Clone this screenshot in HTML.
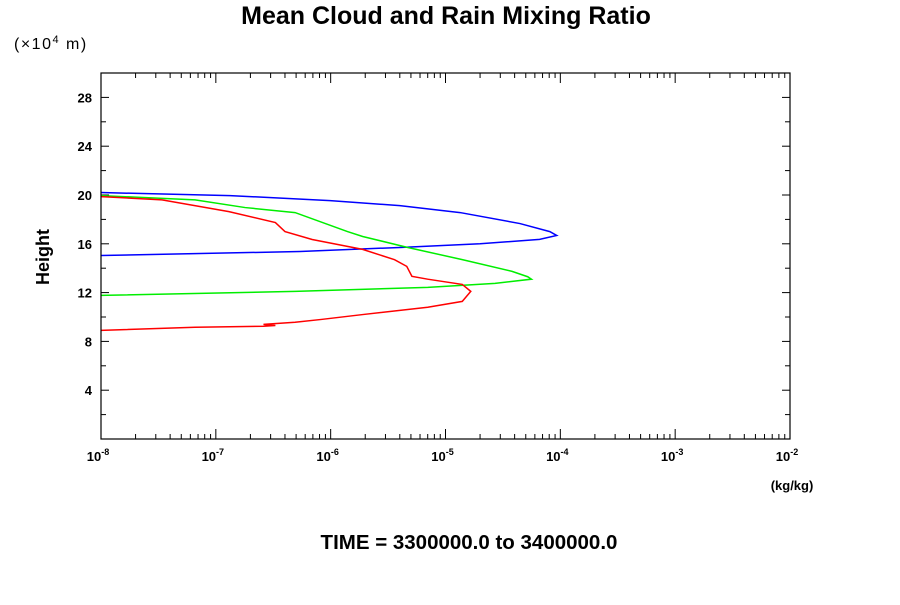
<!DOCTYPE html>
<html><head><meta charset="utf-8"><style>
body{margin:0;background:#fff;}
svg text{font-family:"Liberation Sans",sans-serif;}
</style></head><body>
<svg id="chart" width="900" height="600" xmlns="http://www.w3.org/2000/svg">
<text x="446" y="24" text-anchor="middle" font-size="25" font-weight="bold">Mean Cloud and Rain Mixing Ratio</text>
<text x="14" y="49" font-size="16" letter-spacing="1.5">(×10<tspan dy="-6" font-size="11">4</tspan><tspan dy="6"> m)</tspan></text>
<text x="49" y="257" font-size="18" font-weight="bold" text-anchor="middle" transform="rotate(-90 49 257)">Height</text>
<text x="792" y="490" font-size="13" font-weight="bold" text-anchor="middle">(kg/kg)</text>
<text x="469" y="549" font-size="20.5" font-weight="bold" text-anchor="middle">TIME = 3300000.0 to 3400000.0</text>
<g id="axes"></g>
<g id="series"></g>
<rect x="101" y="73" width="689" height="366" fill="none" stroke="#000" stroke-width="1.2"/>
</svg>
<script>
const xDecades=[-8,-7,-6,-5,-4,-3,-2];
const yTicks=[4,8,12,16,20,24,28];
const blueX=[1e-8,1.33e-7,9.9e-7,4.0e-6,1.34e-5,4.45e-5,8.1e-5,9.3e-5,6.6e-5,2.0e-5,4.0e-6,5.4e-7,7.3e-8,1e-8];
const blueH=[20.2,19.95,19.54,19.13,18.56,17.66,17.0,16.68,16.36,16.0,15.7,15.37,15.2,15.04];
const greenX=[1e-8,6.6e-8,1.8e-7,4.9e-7,1.4e-6,1.9e-6,4.7e-6,1.4e-5,3.8e-5,5.2e-5,5.6e-5,2.7e-5,7.0e-6,4.9e-7,1e-8];
const greenH=[19.95,19.6,18.97,18.56,17.0,16.6,15.7,14.7,13.74,13.3,13.1,12.76,12.43,12.1,11.77];
const redX=[1e-8,3.4e-8,1.3e-7,3.3e-7,4.0e-7,6.9e-7,1.9e-6,3.6e-6,4.6e-6,5.1e-6,7.0e-6,1.4e-5,1.66e-5,1.4e-5,7.0e-6,1.9e-6,8.3e-7,4.9e-7,2.6e-7,3.3e-7,2.6e-7,6.6e-8,1e-8];
const redH=[19.87,19.6,18.64,17.74,17.0,16.35,15.54,14.7,14.15,13.33,13.1,12.67,12.1,11.28,10.8,10.2,9.8,9.57,9.4,9.3,9.24,9.16,8.9];

const L=101,R=790,T=73,B=439;
const xs=v=>L+(Math.log10(v)+8)/6*(R-L);
const ys=h=>B-h/30*(B-T);
const NS="http://www.w3.org/2000/svg";
const axes=document.getElementById('axes'),ser=document.getElementById('series');
function mk(tag,parent){const e=document.createElementNS(NS,tag);parent.appendChild(e);return e;}
function line(x1,y1,x2,y2){const l=mk('line',axes);l.setAttribute('x1',x1);l.setAttribute('y1',y1);l.setAttribute('x2',x2);l.setAttribute('y2',y2);l.setAttribute('stroke','#000');

}
xDecades.forEach(d=>{
  const x=xs(Math.pow(10,d));
  line(x,B,x,B-10);line(x,T,x,T+10);
  const t=mk('text',axes);t.setAttribute('x',x-3);t.setAttribute('y',461);t.setAttribute('text-anchor','middle');t.setAttribute('font-size','13');t.setAttribute('font-weight','bold');
  
  
  t.innerHTML='10<tspan dy="-6" font-size="9">'+d+'</tspan>';
  if(d<-2){for(let k=2;k<10;k++){const xm=xs(k*Math.pow(10,d));line(xm,B,xm,B-5);line(xm,T,xm,T+5);}}
});
for(let h=2;h<30;h+=2){const y=ys(h);const big=h%4===0;line(L,y,L+(big?8:5),y);line(R,y,R-(big?8:5),y);}
yTicks.forEach(h=>{const t=mk('text',axes);t.setAttribute('x',92);t.setAttribute('y',ys(h)+5);t.setAttribute('text-anchor','end');t.setAttribute('font-size','13');t.setAttribute('font-weight','bold');t.textContent=h;

});
function series(X,H,col,name){const p=mk('polyline',ser);p.setAttribute('points',X.map((v,i)=>xs(v)+','+ys(H[i])).join(' '));p.setAttribute('fill','none');p.setAttribute('stroke',col);p.setAttribute('stroke-width','1.5');

}
series(blueX,blueH,'#0000ff','blue-series-line');
series(greenX,greenH,'#00ee00','green-series-line');
series(redX,redH,'#ff0000','red-series-line');
</script>
</body></html>
